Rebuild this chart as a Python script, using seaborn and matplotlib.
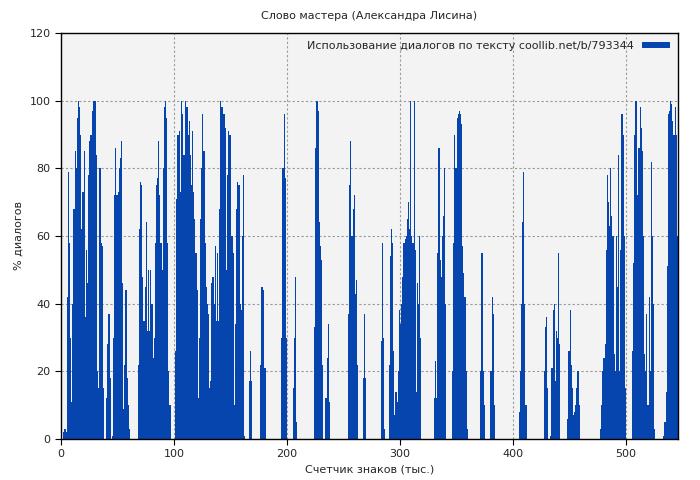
import numpy as np
import pandas as pd
import matplotlib
matplotlib.use("Agg")
import matplotlib.pyplot as plt
import seaborn as sns

# start of each run of non-empty bars (thousand chars) and its values (% dialogue)
seg_start = [2, 45, 68, 101, 176, 195, 205, 224, 254, 267, 283, 290, 330, 346,
             371, 380, 405, 427, 433, 448, 477, 505, 533]
seg_vals = [
    [2, 3, 2, 42, 79, 58, 30, 11, 40, 68, 85, 80, 95, 100, 98, 90, 62, 73, 85, 36, 56,
     46, 78, 88, 90, 97, 100, 100, 100, 84, 20, 15, 80, 58, 57, 15, 0, 0, 12, 28, 37, 18],
    [1, 30, 72, 86, 72, 73, 80, 83, 88, 46, 9, 22, 44, 18, 10, 3],
    [22, 62, 76, 75, 48, 35, 45, 64, 32, 50, 32, 50, 40, 24, 30, 58, 75, 77, 88, 72,
     58, 50, 80, 98, 100, 95, 58, 20, 10],
    [26, 71, 90, 91, 73, 100, 96, 84, 84, 100, 98, 90, 94, 84, 75, 91, 73, 65, 55, 44,
     12, 30, 65, 80, 96, 85, 58, 45, 40, 37, 15, 17, 46, 48, 40, 57, 35, 55, 35, 68,
     100, 98, 96, 96, 92, 50, 78, 91, 90, 60, 60, 55, 10, 34, 68, 76, 75, 40,
     38, 60, 78, 1, 0, 0, 0, 17, 26, 17],
    [22, 45, 45, 44, 21],
    [30, 80, 96, 77, 30],
    [15, 30, 48, 5],
    [33, 86, 100, 97, 64, 57, 53, 22, 0, 0, 12, 24, 34, 11],
    [37, 75, 88, 60, 68, 72, 43, 47, 22],
    [18, 37, 18],
    [29, 58, 30, 3],
    [22, 54, 62, 58, 26, 7, 14, 11, 20, 38, 34, 40, 48, 58, 59, 60, 65, 70, 62, 100,
     60, 58, 100, 56, 14, 46, 40, 60, 30],
    [12, 23, 12, 55, 86, 53, 48, 60, 66, 80, 40],
    [20, 58, 90, 80, 95, 96, 97, 96, 93, 57, 49, 42, 20, 3],
    [20, 55, 20, 10],
    [20, 42, 37, 10],
    [8, 20, 40, 64, 79, 40, 10],
    [20, 33, 36, 15],
    [1, 21, 38, 40, 17, 32, 30, 55, 28],
    [6, 26, 38, 22, 15, 7, 8, 10, 15, 20, 10],
    [3, 10, 20, 24, 28, 56, 78, 70, 63, 80, 66, 60, 25, 20, 60, 45, 84, 20, 56, 96, 90, 60, 15],
    [26, 52, 90, 100, 100, 72, 86, 98, 92, 85, 60, 25, 20, 37, 10, 42, 20, 82, 60, 40, 3],
    [1, 5, 14, 51, 96, 97, 100, 99, 94, 90, 98, 90, 60, 56],
]
n_total = 547

pct = np.zeros(n_total)
for s, vals in zip(seg_start, seg_vals):
    pct[s:s + len(vals)] = vals
df = pd.DataFrame({"k": np.arange(n_total) + 0.5, "pct": pct})

sns.set_style("whitegrid")
plt.rcParams["font.family"] = ["DejaVu Sans"]

fig = plt.figure(figsize=(7, 4.8), dpi=100)
ax = fig.add_axes([61 / 700, 41 / 480, 617 / 700, 406 / 480])
ax.set_facecolor("#f3f3f3")

sns.barplot(data=df, x="k", y="pct", native_scale=True, width=1, color="#0645ad",
            saturation=1, linewidth=0, ax=ax,
            label="Использование диалогов по тексту coollib.net/b/793344")

ax.set_xlim(0, 546)
ax.set_ylim(0, 120)
ax.set_xticks([0, 100, 200, 300, 400, 500])
ax.set_yticks(range(0, 121, 20))
ax.grid(True, color="#999999", linestyle=(0, (2, 2)), linewidth=0.8)
ax.set_axisbelow(True)
for s in ax.spines.values():
    s.set_color("black")
    s.set_linewidth(1)
ax.tick_params(labelsize=8, length=4, direction="out", color="black", bottom=True, left=True)
ax.set_xlabel("Счетчик знаков (тыс.)", fontsize=8)
ax.set_ylabel("% диалогов", fontsize=8)
ax.set_title("Слово мастера (Александра Лисина)", fontsize=8, pad=10)
leg = ax.legend(loc="upper right", frameon=False, fontsize=8, markerfirst=False,
                handlelength=2.5, handleheight=0.5, borderaxespad=0.3)

fig.savefig("out.png", dpi=100)
